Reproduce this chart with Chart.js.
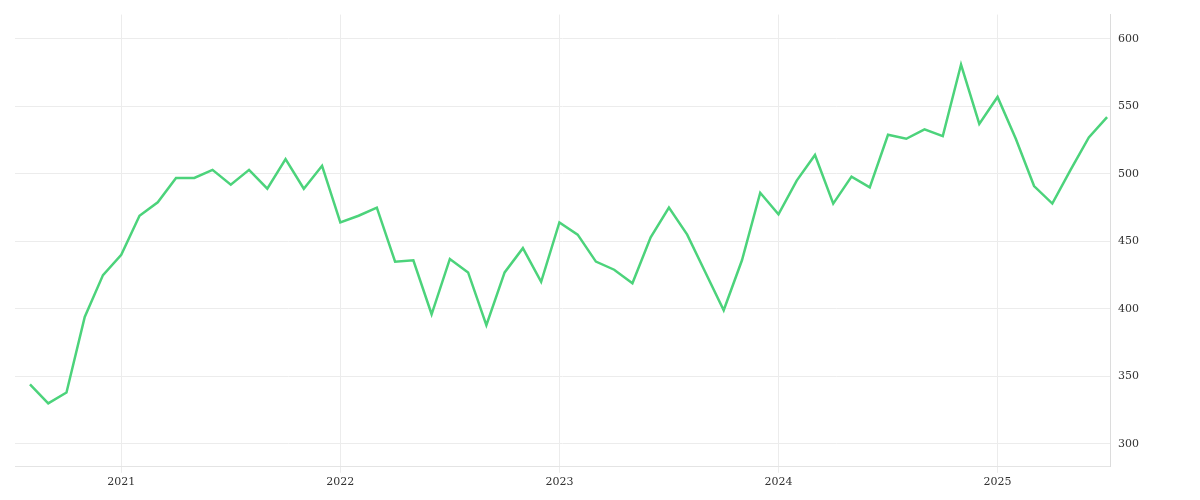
<!DOCTYPE html>
<html>
<head>
<meta charset="utf-8">
<script src="https://cdn.jsdelivr.net/npm/chart.js@4"></script>
<style>
	body { margin: 0; background: #fff; }
	#wrap { width: 1200px; height: 500px; }
</style>
</head>
<body>
<div id="wrap"><canvas id="chart"></canvas></div>
<script>
// monthly values, Aug 2020 .. Jul 2025
var startYear = 2020, startMonth = 8;
var values = [344, 330, 338, 394, 425, 440, 469, 479, 497, 497, 503, 492,
	503, 489, 511, 489, 506, 464, 469, 475, 435, 436, 396, 437,
	427, 388, 427, 445, 420, 464, 455, 435, 429, 419, 453, 475,
	455, 427, 399, 436, 486, 470, 495, 514, 478, 498, 490, 529,
	526, 533, 528, 581, 537, 557, 526, 491, 478, 503, 527, 542];
var yearTicks = [2021, 2022, 2023, 2024, 2025];

var points = values.map(function (v, i) { return { x: i, y: v }; });
var tickIndex = yearTicks.map(function (y) { return (y - startYear) * 12 + (1 - startMonth); });

new Chart(document.getElementById("chart"), {
	type: 'line',
	data: {
		datasets: [{
			data: points,
			borderColor: '#4cd37b',
			borderWidth: 2.5,
			pointRadius: 0,
			tension: 0,
			fill: false
		}]
	},
	options: {
		responsive: true,
		maintainAspectRatio: false,
		animation: false,
		layout: { padding: { left: 15, right: 53, top: 10, bottom: 8 } },
		plugins: { legend: { display: false }, tooltip: { enabled: false } },
		scales: {
			x: {
				type: 'linear',
				min: -0.82,
				max: 59.16,
				afterBuildTicks: function (axis) {
					axis.ticks = tickIndex.map(function (v) { return { value: v }; });
				},
				ticks: {
					autoSkip: false,
					maxRotation: 0,
					color: '#333',
					font: { family: 'DejaVu Serif', size: 11 },
					callback: function (v) { return String(startYear + Math.floor((v + startMonth - 1) / 12)); }
				},
				grid: { color: '#ececec', drawTicks: true, tickLength: 6 },
				border: { color: '#e4e4e4' }
			},
			y: {
				position: 'right',
				min: 283,
				max: 618,
				afterBuildTicks: function (axis) {
					axis.ticks = [300, 350, 400, 450, 500, 550, 600].map(function (v) { return { value: v }; });
				},
				ticks: {
					color: '#333',
					padding: 8,
					font: { family: 'DejaVu Serif', size: 11 }
				},
				grid: { color: '#ececec', drawTicks: false },
				border: { color: '#dcdcdc' }
			}
		}
	}
});
</script>
</body>
</html>
